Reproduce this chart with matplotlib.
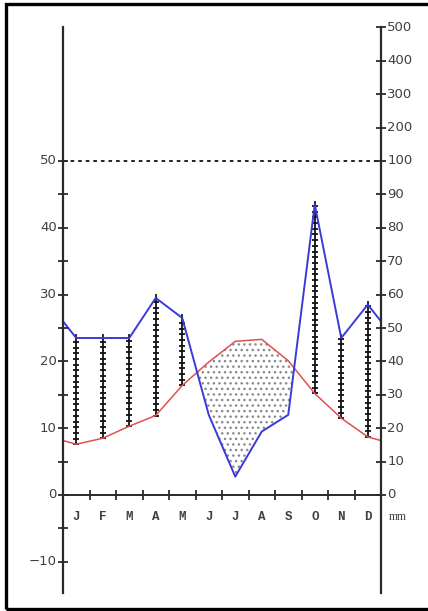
import numpy as np
import matplotlib
matplotlib.use("Agg")
import matplotlib.pyplot as plt
from matplotlib.patches import Rectangle

# Monthly climate data (Walter-Lieth style diagram)
months = ["J", "F", "M", "A", "M", "J", "J", "A", "S", "O", "N", "D"]
temp = [7.6, 8.5, 10.3, 11.9, 16.4, 19.9, 23.0, 23.3, 20.1, 15.2, 11.5, 8.7]   # deg C
precip = [47, 47, 47, 59, 53, 24, 5.5, 19, 24, 87, 47, 57]                       # mm

temp_ticks = [-10, 0, 10, 20, 30, 40, 50]
precip_ticks = [0, 10, 20, 30, 40, 50, 60, 70, 80, 90, 100, 200, 300, 400, 500]


def p2y(p):
    # 20 mm = 10 deg C up to 100 mm, compressed above
    p = np.asarray(p, dtype=float)
    return np.where(p <= 100, p / 2.0, 50 + (p - 100) / 20.0)


# pixel layout: left axis at x=63, right axis at x=381, 0 deg at y=495
W, H = 428, 611
px_x = 26.5
px_y = 6.68

fig = plt.figure(figsize=(W / 100, H / 100), dpi=100)
ax = fig.add_axes([0, 0, 1, 1])
ax.set_xlim(-63 / px_x, (W - 63) / px_x)
ax.set_ylim(-(H - 495) / px_y, 495 / px_y)
ax.axis("off")

axis_col = "#2a2a2a"
text_col = "#404040"

# curves wrapped to the edges (half-month before Jan / after Dec)
xc = np.arange(12) + 0.5
t_edge = (temp[0] + temp[-1]) / 2
p_edge = (precip[0] + precip[-1]) / 2
xs = np.concatenate([[0], xc, [12]])
ts = np.concatenate([[t_edge], temp, [t_edge]])
ps = p2y(np.concatenate([[p_edge], precip, [p_edge]]))

# dry period: dotted fill
plt.rcParams["hatch.linewidth"] = 1.0
xf = np.linspace(0, 12, 1200)
tf = np.interp(xf, xs, ts)
pf = np.interp(xf, xs, ps)
ax.fill_between(xf, pf, tf, where=tf > pf, interpolate=True,
                facecolor="none", edgecolor="#8a8a8a", hatch="...", linewidth=0)

# humid period: vertical bars with crossbars
for i in range(12):
    t = temp[i]
    p = float(p2y(precip[i]))
    if p > t:
        ax.plot([xc[i], xc[i]], [t, p + 0.4], color="#111111", lw=1.3, zorder=3)
        ticks = np.arange(t, p + 0.01, 0.85)
        ax.plot(np.full(len(ticks), xc[i]), ticks, ls="none", marker="_",
                ms=5, mew=1.3, color="#111111", zorder=3)

ax.plot(xs, ts, color="#e05050", lw=1.1, zorder=4)
ax.plot(xs, ps, color="#3a3ad8", lw=1.4, zorder=4)

# axes
ax.plot([0, 0], [-14.7, 70], color=axis_col, lw=1.6, zorder=5)
ax.plot([12, 12], [-14.7, 70], color=axis_col, lw=1.6, zorder=5)
ax.plot([0, 12], [0, 0], color=axis_col, lw=1.4, zorder=5)
ax.plot([0, 12], [50, 50], color="#111111", lw=1.3, ls=(0, (2, 2.2)), zorder=5)

# left ticks every 5 deg
lt = np.arange(-10, 51, 5)
ax.plot(np.zeros(len(lt)), lt, ls="none", marker="_", ms=7, mew=1.3, color=axis_col, zorder=5)
for v in temp_ticks:
    ax.text(-0.23, v, f"{v}".replace("-", "\u2212"), ha="right", va="center",
            fontsize=9.5, color=text_col)

# right ticks
ry = p2y(precip_ticks)
ax.plot(np.full(len(ry), 12), ry, ls="none", marker="_", ms=7, mew=1.3, color=axis_col, zorder=5)
for v, y in zip(precip_ticks, ry):
    ax.text(12.23, y, f"{v}", ha="left", va="center", fontsize=9.5, color=text_col)

# month ticks and labels
mt = np.arange(1, 12)
ax.plot(mt, np.zeros(len(mt)), ls="none", marker="|", ms=7, mew=1.3, color=axis_col, zorder=5)
for i, m in enumerate(months):
    ax.text(xc[i], -3.3, m, ha="center", va="center", fontsize=9,
            family="Liberation Mono", fontweight="bold", color=text_col)
ax.text(12.3, -3.3, "mm", ha="left", va="center", fontsize=8.5,
        family="Liberation Serif", color=text_col)

# outer frame (open on the right)
fig.patches.append(Rectangle((6 / W, 2 / H), 500 / W, 605 / H, transform=fig.transFigure,
                             fill=False, edgecolor="black", lw=2.4))

fig.savefig("out.png", dpi=100)
